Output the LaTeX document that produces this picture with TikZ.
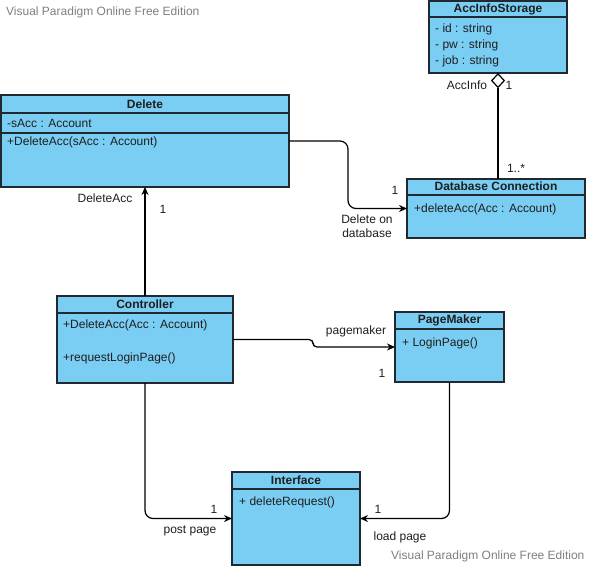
\documentclass[tikz,border=0pt]{standalone}
\usepackage{fontspec}
\setmainfont{Liberation Sans}
\usetikzlibrary{arrows.meta,shapes.geometric}
\definecolor{classfill}{RGB}{122,206,244}
\definecolor{classline}{RGB}{32,40,48}
\definecolor{marktext}{RGB}{128,128,128}
\definecolor{labeltext}{RGB}{30,30,30}
\begin{document}
\begin{tikzpicture}[x=1pt,y=-1pt,
  font=\fontsize{12}{14}\selectfont,
  classbox/.style={draw=classline,fill=classfill,line width=1.2pt,rectangle,
    anchor=north west,inner sep=0pt,outer sep=0pt},
  divider/.style={draw=classline,line width=1.2pt},
  title/.style={font=\fontsize{12}{14}\selectfont\bfseries,text=labeltext,inner sep=0pt},
  member/.style={anchor=west,text=labeltext,inner sep=0pt},
  lbl/.style={text=labeltext,inner sep=0pt},
  watermark/.style={text=marktext,inner sep=0pt,anchor=west},
  assoc/.style={draw=black,line width=1.2pt,-{Stealth[length=8pt,width=7pt]}},
  plain/.style={draw=black,line width=1.2pt},
  agg/.style={diamond,draw=black,fill=white,line width=1.2pt,inner sep=0pt,
    minimum width=13pt,minimum height=14pt,anchor=north}]
\useasboundingbox[fill=white] (0,0) rectangle (589,566);

% watermarks
\node[watermark] (wm1) at (6,12) {Visual Paradigm Online Free Edition};
\node[watermark] (wm2) at (391,556) {Visual Paradigm Online Free Edition};

% AccInfoStorage
\node[classbox,minimum width=138pt,minimum height=72pt] (acc) at (429,1) {};
\draw[divider] (429,17) -- (567,17);
\node[title] (acct) at (498,9) {AccInfoStorage};
\node[member] (acc1) at (435,29) {- id : string};
\node[member] (acc2) at (435,45) {- pw : string};
\node[member] (acc3) at (435,61) {- job : string};

% Delete
\node[classbox,minimum width=288pt,minimum height=92pt] (del) at (1,95) {};
\draw[divider] (1,113) -- (289,113);
\draw[divider] (1,133) -- (289,133);
\node[title] (delt) at (145,104) {Delete};
\node[member] (del1) at (7,123) {-sAcc : Account};
\node[member] (del2) at (7,142) {+DeleteAcc(sAcc : Account)};

% Database Connection
\node[classbox,minimum width=178pt,minimum height=59pt] (db) at (407,179) {};
\draw[divider] (407,195) -- (585,195);
\node[title] (dbt) at (496,186) {Database Connection};
\node[member] (db1) at (414,209) {+deleteAcc(Acc : Account)};

% Controller
\node[classbox,minimum width=176pt,minimum height=87pt] (ctl) at (57,296) {};
\draw[divider] (57,313) -- (233,313);
\node[title] (ctlt) at (145,304) {Controller};
\node[member] (ctl1) at (63,325) {+DeleteAcc(Acc : Account)};
\node[member] (ctl2) at (63,358) {+requestLoginPage()};

% PageMaker
\node[classbox,minimum width=109pt,minimum height=70pt] (pm) at (395,312) {};
\draw[divider] (395,329) -- (504,329);
\node[title] (pmt) at (449.5,320) {PageMaker};
\node[member] (pm1) at (402,343) {+ LoginPage()};

% Interface
\node[classbox,minimum width=128pt,minimum height=93pt] (ifc) at (232,472) {};
\draw[divider] (232,489) -- (360,489);
\node[title] (ifct) at (296,480) {Interface};
\node[member] (ifc1) at (239,502) {+ deleteRequest()};

% aggregation: AccInfoStorage -- Database Connection
\node[agg] (dia) at (acc.south) {};
\draw[plain] (dia.south) -- (dia.south |- db.north);
\node[lbl] (l1) at (467,85) {AccInfo};
\node[lbl] (l2) at (509,85) {1};
\node[lbl] (l3) at (516,168) {1..*};

% Delete -> Database Connection
\draw[assoc,rounded corners=8pt] (del.east) -- ++(59,0) |- (db.west);
\node[lbl] (l4) at (395,190) {1};
\node[lbl,align=center] (l5) at (367,226) {Delete on\\database};

% Controller -> Delete
\draw[assoc] (ctl.north) -- (ctl.north |- del.south);
\node[lbl] (l6) at (105,198) {DeleteAcc};
\node[lbl] (l7) at (163,209) {1};

% Controller -> PageMaker
\draw[assoc,rounded corners=4pt] (ctl.east) -- ++(80,0) |- (pm.west);
\node[lbl] (l8) at (356,331) {pagemaker};
\node[lbl] (l9) at (382,373) {1};

% Controller -> Interface
\draw[assoc,rounded corners=8pt] (ctl.south) |- (ifc.west);
\node[lbl] (l10) at (214,509) {1};
\node[lbl] (l11) at (190,531) {post page};

% PageMaker -> Interface
\draw[assoc,rounded corners=8pt] (pm.south) |- (ifc.east);
\node[lbl] (l12) at (378,509) {1};
\node[lbl] (l13) at (400,537) {load page};
\end{tikzpicture}
\end{document}
